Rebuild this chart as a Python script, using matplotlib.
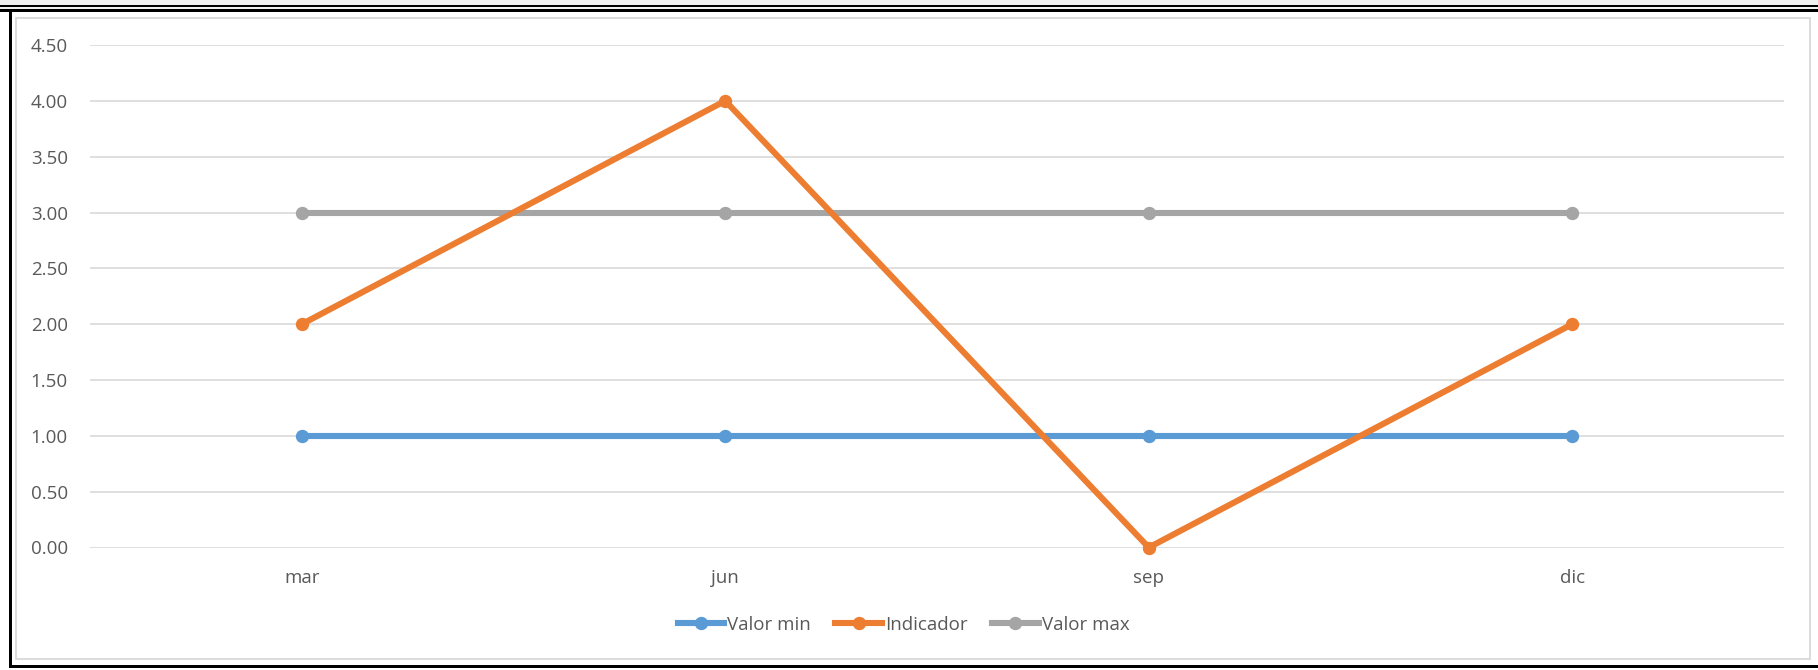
import matplotlib
matplotlib.use("Agg")
import matplotlib.pyplot as plt
from matplotlib.patches import Rectangle
from matplotlib.lines import Line2D

categories = ["mar", "jun", "sep", "dic"]
valor_min = [1, 1, 1, 1]
indicador = [2, 4, 0, 2]
valor_max = [3, 3, 3, 3]
yticks = [0.0, 0.5, 1.0, 1.5, 2.0, 2.5, 3.0, 3.5, 4.0, 4.5]

W, H = 1818, 670
fig = plt.figure(figsize=(W / 100, H / 100), dpi=100)
fig.patch.set_facecolor("white")

plt.rcParams["font.family"] = ["Open Sans", "DejaVu Sans"]
TXT = "#595959"
FS = 13.5

def px_rect(x0, y0, x1, y1, color, z=0):
    fig.patches.append(Rectangle((x0 / W, 1 - y1 / H), (x1 - x0) / W, (y1 - y0) / H,
                                 transform=fig.transFigure, facecolor=color,
                                 edgecolor="none", zorder=z))

# spreadsheet-like frame
px_rect(0, 0, W, 5, "#F0F0F0")
px_rect(0, 5, W, 6.7, "#000000")
px_rect(0, 6.7, W, 9, "#F0F0F0")
px_rect(0, 9, W, 11.5, "#000000")
px_rect(9, 9, 12, 667, "#000000")
px_rect(9, 665, W, 667.5, "#000000")
# chart area border
fig.patches.append(Rectangle((15.5 / W, 1 - 658.5 / H), (1810 - 15.5) / W, (658.5 - 17.5) / H,
                             transform=fig.transFigure, facecolor="none",
                             edgecolor="#D9D9D9", linewidth=1.3, zorder=1))

x0, x1 = 90, 1784
ytop, ybot = 45, 547.5
ax = fig.add_axes([x0 / W, 1 - ybot / H, (x1 - x0) / W, (ybot - ytop) / H])
ax.set_facecolor("none")

xs = list(range(len(categories)))
lw = 4.4
ms = 8.6
c_min, c_ind, c_max = "#5B9BD5", "#ED7D31", "#A5A5A5"
ax.plot(xs, valor_min, color=c_min, lw=lw, marker="o", ms=ms, clip_on=False, zorder=3, label="Valor min")
ax.plot(xs, valor_max, color=c_max, lw=lw, marker="o", ms=ms, clip_on=False, zorder=4, label="Valor max")
ax.plot(xs, indicador, color=c_ind, lw=lw, marker="o", ms=ms, clip_on=False, zorder=5, label="Indicador")

ax.set_xlim(-0.5, len(categories) - 0.5)
ax.set_ylim(0, 4.5)
ax.set_yticks(yticks)
ax.set_yticklabels([f"{v:.2f}" for v in yticks])
ax.set_xticks(xs)
ax.set_xticklabels(categories)
ax.tick_params(axis="both", length=0, labelsize=FS, labelcolor=TXT)
ax.tick_params(axis="y", pad=16)
ax.tick_params(axis="x", pad=15.8)
ax.grid(axis="y", color="#D9D9D9", linewidth=1.2, zorder=0)
for s in ax.spines.values():
    s.set_visible(False)

handles = [
    Line2D([], [], color=c_min, lw=lw, marker="o", ms=ms),
    Line2D([], [], color=c_ind, lw=lw, marker="o", ms=ms),
    Line2D([], [], color=c_max, lw=lw, marker="o", ms=ms),
]
labels = ["Valor min", "Indicador", "Valor max"]
leg = fig.legend(handles, labels, loc="center", bbox_to_anchor=(903.5 / W, 1 - 625 / H),
                 ncol=3, frameon=False, fontsize=FS, handlelength=2.5, handletextpad=0.15,
                 columnspacing=1.3, numpoints=1)
for t in leg.get_texts():
    t.set_color(TXT)

fig.savefig("out.png", dpi=100)
